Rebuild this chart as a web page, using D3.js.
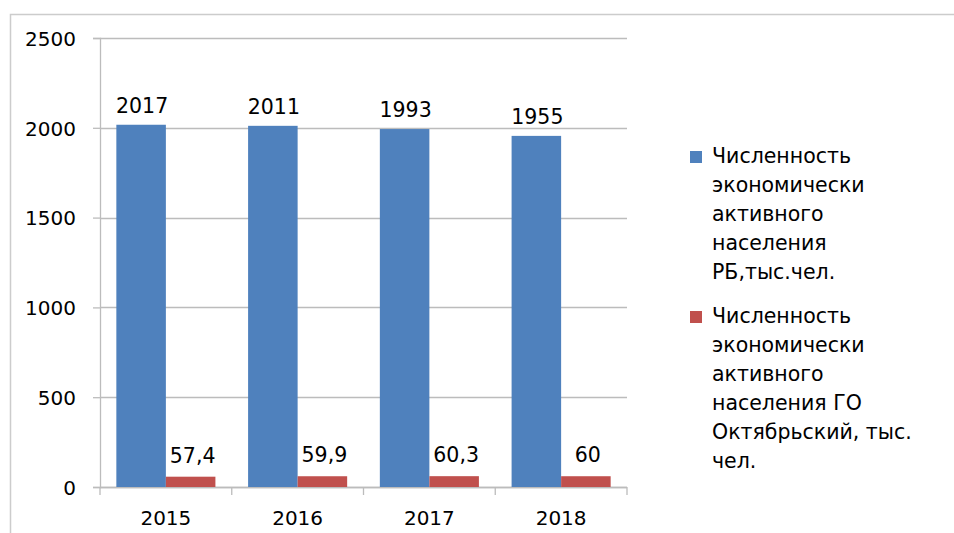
<!DOCTYPE html>
<html>
<head>
<meta charset="utf-8">
<script src="https://cdn.jsdelivr.net/npm/d3@7"></script>
<style>
  body { margin: 0; background: #fff; }
  text { font-family: "DejaVu Sans", sans-serif; fill: #000; }
</style>
</head>
<body>
<div class="vis-barchart"></div>
<script>
const years = ['2015', '2016', '2017', '2018'];
const seriesNames = [
    ['Численность', 'экономически', 'активного', 'населения', 'РБ,тыс.чел.'],
    ['Численность', 'экономически', 'активного', 'населения ГО', 'Октябрьский, тыс.', 'чел.']
];
const rbValues = [2017, 2011, 1993, 1955];
const goValues = [57.4, 59.9, 60.3, 60];
const rbLabels = ['2017', '2011', '1993', '1955'];
const goLabels = ['57,4', '59,9', '60,3', '60'];
const yTicks = [0, 500, 1000, 1500, 2000, 2500];
const colors = ['#4f81bd', '#c0504d'];

const W = 954, H = 533;
const margin = {top: 38, right: 327, bottom: 46, left: 100};
const width = W - margin.left - margin.right;
const height = H - margin.top - margin.bottom;

const svg = d3.select('.vis-barchart').append('svg')
    .attr('width', W)
    .attr('height', H);

// outer frame (cut off at right and bottom)
svg.append('path')
    .attr('d', 'M10.5,' + H + 'V14.5H' + W)
    .attr('fill', 'none')
    .attr('stroke', '#cccccc')
    .attr('stroke-width', 1.5);

const g = svg.append('g')
    .attr('transform', 'translate(' + margin.left + ',' + margin.top + ')');

const x0 = d3.scaleBand().domain(years).range([0, width]).padding(0);
const x1 = d3.scaleBand().domain([0, 1]).range([0, x0.bandwidth()])
    .paddingInner(0).paddingOuter(0.33);
const y = d3.scaleLinear().domain([0, 2500]).range([height, 0]);

// gridlines
g.selectAll('.grid')
    .data(yTicks)
    .enter().append('line')
    .attr('x1', 0).attr('x2', width)
    .attr('y1', d => Math.round(y(d)) + 0.5)
    .attr('y2', d => Math.round(y(d)) + 0.5)
    .attr('stroke', '#bcbcbc')
    .attr('stroke-width', 1.3);

// y axis
const yAxis = g.append('g')
    .call(d3.axisLeft(y).tickValues(yTicks).tickSize(7).tickPadding(17).tickFormat(d3.format('d')));
yAxis.select('.domain').attr('stroke', '#bcbcbc').attr('stroke-width', 1.3);
yAxis.selectAll('.tick line').attr('stroke', '#bcbcbc').attr('stroke-width', 1.3);
yAxis.selectAll('.tick text')
    .attr('font-size', 20)
    .attr('font-family', '"DejaVu Sans", sans-serif')
    .attr('dy', '0.36em');

// x axis
const xAxis = g.append('g')
    .attr('transform', 'translate(0,' + height + ')')
    .call(d3.axisBottom(x0).tickSize(0).tickPadding(0));
xAxis.select('.domain').remove();
xAxis.selectAll('.tick text')
    .attr('font-size', 20)
    .attr('font-family', '"DejaVu Sans", sans-serif')
    .attr('dy', 0)
    .attr('y', 38);
g.append('line')
    .attr('x1', 0).attr('x2', width)
    .attr('y1', height + 0.5).attr('y2', height + 0.5)
    .attr('stroke', '#bcbcbc').attr('stroke-width', 1.3);
g.selectAll('.xtick')
    .data(years.concat(['end']))
    .enter().append('line')
    .attr('x1', (d, i) => i < years.length ? x0(d) : width)
    .attr('x2', (d, i) => i < years.length ? x0(d) : width)
    .attr('y1', height).attr('y2', height + 8)
    .attr('stroke', '#bcbcbc').attr('stroke-width', 1.3);

// bars
const series = [rbValues, goValues];
const labels = [rbLabels, goLabels];
series.forEach((vals, s) => {
    g.selectAll('.bar' + s)
        .data(vals)
        .enter().append('rect')
        .attr('fill', colors[s])
        .attr('x', (d, i) => x0(years[i]) + x1(s))
        .attr('width', x1.bandwidth())
        .attr('y', d => y(d))
        .attr('height', d => height - y(d));

    g.selectAll('.lbl' + s)
        .data(vals)
        .enter().append('text')
        .attr('x', (d, i) => x0(years[i]) + x1(s) + x1.bandwidth() / 2 + (s ? 2 : 1))
        .attr('y', d => y(d) - (s ? 14 : 12))
        .attr('text-anchor', 'middle')
        .attr('font-size', 20.5)
        .text((d, i) => labels[s][i]);
});

// legend
const legendStarts = [163, 323];
seriesNames.forEach((lines, s) => {
    const lg = svg.append('g');
    lg.append('rect')
        .attr('x', 690).attr('y', legendStarts[s] - 12)
        .attr('width', 12).attr('height', 12)
        .attr('fill', colors[s]);
    lg.selectAll('text')
        .data(lines)
        .enter().append('text')
        .attr('x', 712)
        .attr('y', (d, i) => legendStarts[s] + i * 29)
        .attr('font-size', 20.5)
        .text(d => d);
});
</script>
</body>
</html>
